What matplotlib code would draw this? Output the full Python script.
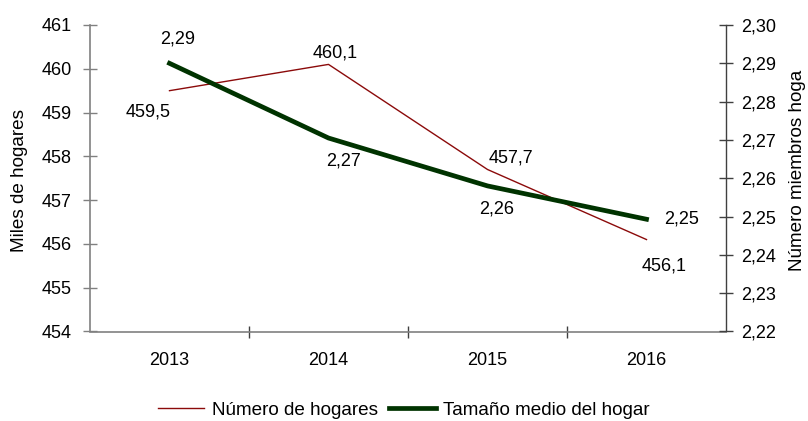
import matplotlib
matplotlib.use("Agg")
import matplotlib.pyplot as plt
from matplotlib.ticker import FuncFormatter, FixedLocator
from matplotlib.transforms import Bbox

years = ["2013", "2014", "2015", "2016"]
hogares = [459.5, 460.1, 457.7, 456.1]
tamano = [2.29, 2.2705, 2.258, 2.2493]
hogares_labels = ["459,5", "460,1", "457,7", "456,1"]
tamano_labels = ["2,29", "2,27", "2,26", "2,25"]

plt.rcParams['font.family'] = ['Liberation Sans', 'DejaVu Sans']
FS = 13
FS_L = 13.6
red = '#8B0A0A'
green = '#003300'
spine_gray = '#808080'

fig = plt.figure(figsize=(8.08, 4.21), dpi=100)
ax = fig.add_axes([90/808, (421-331.5)/421, (726-90)/808, (331.5-25)/421])
ax2 = ax.twinx()

xs = [i + 0.5 for i in range(len(years))]
l1, = ax.plot(xs, hogares, color=red, lw=1.0, zorder=3)
l2, = ax2.plot(xs, tamano, color=green, lw=3.4, zorder=3)

ax.set_xlim(0, 4)
ax.set_ylim(454, 461)
ax2.set_ylim(2.22, 2.30)
ax.set_yticks(range(454, 462))
ax2.set_yticks([2.22 + 0.01*i for i in range(9)])
ax2.yaxis.set_major_formatter(FuncFormatter(lambda v, p: f"{v:.2f}".replace('.', ',')))

ax.xaxis.set_major_locator(FixedLocator([1, 2, 3]))
ax.xaxis.set_minor_locator(FixedLocator(xs))
ax.set_xticklabels([])
ax.set_xticklabels(years, minor=True)
ax.tick_params(axis='x', which='major', direction='inout', length=9, color='#404040', width=1)
ax.tick_params(axis='x', which='minor', length=0, pad=15, labelsize=FS)
ax.tick_params(axis='y', direction='inout', length=10, color=spine_gray, width=1, pad=8, labelsize=FS)
ax2.tick_params(axis='y', direction='inout', length=10, color='#404040', width=1, pad=6, labelsize=FS)

for a in (ax, ax2):
    a.spines['top'].set_visible(False)
ax.spines['left'].set_color(spine_gray)
ax.spines['bottom'].set_color(spine_gray)
ax.spines['right'].set_visible(False)
ax2.spines['left'].set_visible(False)
ax2.spines['bottom'].set_visible(False)
ax2.spines['right'].set_color('#404040')
for s in ('left', 'bottom'):
    ax.spines[s].set_linewidth(1.2)
ax2.spines['right'].set_linewidth(1.0)

fig.text(20/808, 1 - 181/421, "Miles de hogares", rotation=90, fontsize=FS_L,
         ha='center', va='center')
rt = fig.text(798/808, 1 - 167/421, "Número miembros hogar", rotation=90, fontsize=FS_L,
              ha='center', va='center')
rt.set_clip_box(Bbox([[0, 0], [808, 421 - 70]]))
rt.set_clip_on(True)

# data labels (offsets in pixels converted to points)
px = 72/100
h_off = [(-21, -21), (7, 11), (23, 11), (18, -26)]
t_off = [(8, 24), (15, -23), (9, -23), (35, 0)]
for x, v, t, (dx, dy) in zip(xs, hogares, hogares_labels, h_off):
    ax.annotate(t, (x, v), xytext=(dx*px, dy*px), textcoords='offset points',
                ha='center', va='center', fontsize=FS, zorder=5)
for x, v, t, (dx, dy) in zip(xs, tamano, tamano_labels, t_off):
    ax2.annotate(t, (x, v), xytext=(dx*px, dy*px), textcoords='offset points',
                 ha='center', va='center', fontsize=FS, zorder=5)

fig.legend([l1, l2], ["Número de hogares", "Tamaño medio del hogar"],
           loc='center', bbox_to_anchor=(0.5, 1 - 410/421), ncol=2, frameon=False,
           fontsize=FS_L, handlelength=2.45, handletextpad=0.4, columnspacing=0.6,
           borderaxespad=0)

fig.savefig("out.png", dpi=100)
